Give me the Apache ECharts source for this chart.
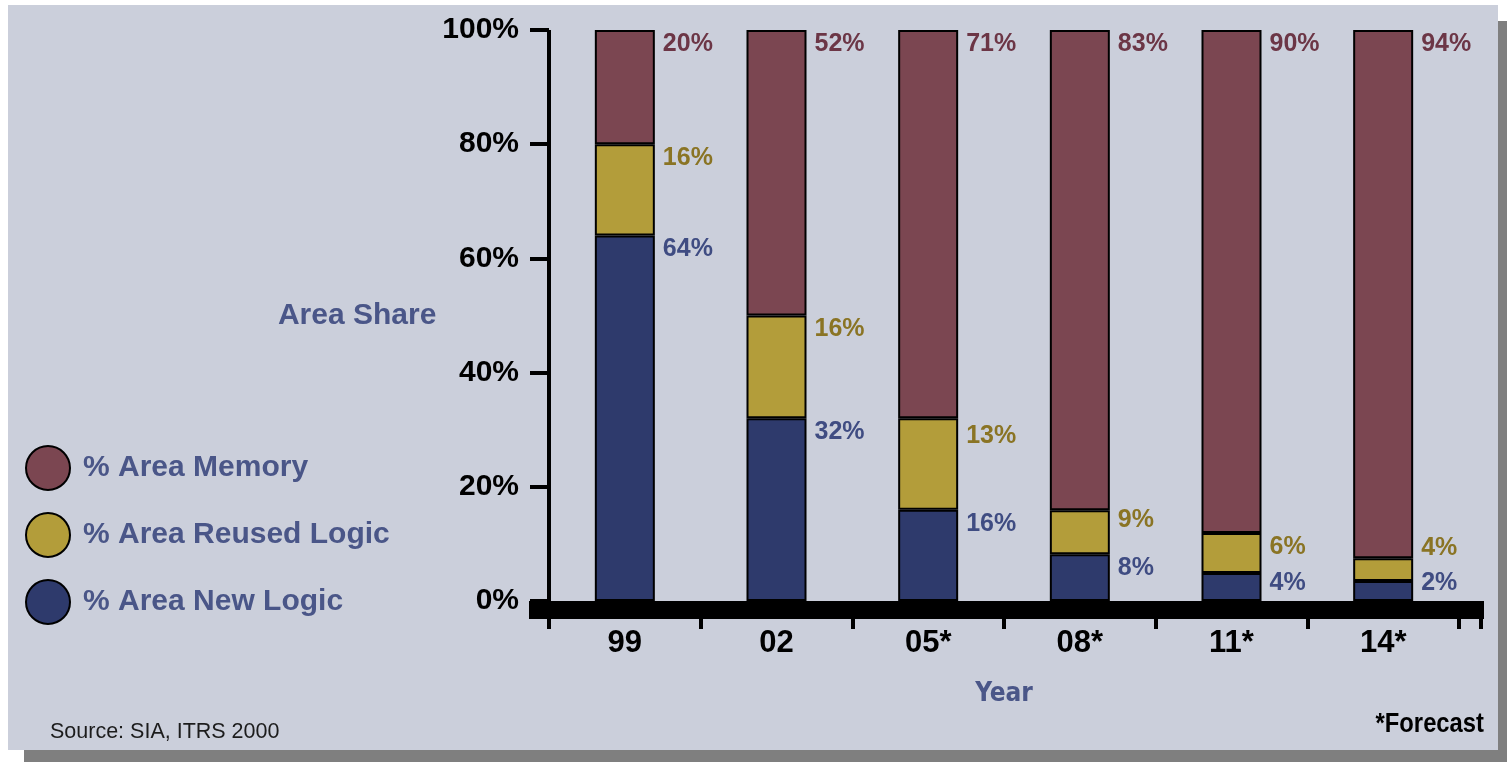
<!DOCTYPE html>
<html>
<head>
<meta charset="utf-8">
<script src="https://cdn.jsdelivr.net/npm/echarts@6/dist/echarts.min.js"></script>
<style>
html,body{margin:0;padding:0;background:#ffffff;}
#chart{width:1507px;height:762px;}
</style>
</head>
<body>
<div id="chart"></div>
<script>
// Categories (years, * = forecast)
var years = ['99', '02', '05*', '08*', '11*', '14*'];
// Bar segment heights as drawn in the picture (% of die area)
var newLogicShare = [64, 32, 16, 8.2, 4.9, 3.5];
var reusedLogicShare = [16, 18, 16, 7.7, 7, 4];
var memoryShare = [20, 50, 68, 84.1, 88.1, 92.5];
// Values printed next to the bars
var newLogicLabels = [64, 32, 16, 8, 4, 2];
var reusedLogicLabels = [16, 16, 13, 9, 6, 4];
var memoryLabels = [20, 52, 71, 83, 90, 94];
// Y axis ticks
var yTicks = [0, 20, 40, 60, 80, 100];

var seriesNames = ['% Area New Logic', '% Area Reused Logic', '% Area Memory'];
var colors = ['#2e3a6c', '#b39d3a', '#7b4651'];
var labelColors = ['#3f4c82', '#8a7424', '#6c3646'];
var NARROW = "'Liberation Sans Narrow', 'DejaVu Sans Condensed', 'Liberation Sans', sans-serif";

var chart = echarts.init(document.getElementById('chart'), null, {renderer: 'canvas'});

var BAR_W = 60;
var LABEL_X = 68;
var DEFAULT_DY = 14;
// label vertical nudges for crowded segments: [seriesIndex_dataIndex]
var labelDy = {
  '1_2': 18, '1_3': 10, '1_5': -10,
  '0_4': 10, '0_5': 2
};

function buildSeries(idx, heights, labels) {
  return {
    name: seriesNames[idx],
    type: 'bar',
    stack: 'area',
    barWidth: BAR_W,
    itemStyle: {color: colors[idx], borderColor: '#000', borderWidth: 2},
    data: heights.map(function (v, i) {
      var dy = labelDy[idx + '_' + i];
      return {
        value: v,
        label: {
          formatter: labels[i] + '%',
          position: [LABEL_X, dy === undefined ? DEFAULT_DY : dy]
        }
      };
    }),
    label: {
      show: true,
      align: 'left',
      verticalAlign: 'middle',
      color: labelColors[idx],
      fontFamily: 'Liberation Sans',
      fontWeight: 'bold',
      fontSize: 25
    },
    emphasis: {disabled: true}
  };
}

var option = {
  backgroundColor: '#ffffff',
  animation: false,
  title: [
    {
      text: 'Source: SIA, ITRS 2000',
      left: 45, top: 716,
      textStyle: {fontFamily: 'Liberation Sans', fontWeight: 'normal', fontSize: 21.5, color: '#1c1c1c'}
    }
  ],
  legend: {
    orient: 'vertical',
    left: 20,
    top: 440,
    itemWidth: 44,
    itemHeight: 44,
    itemGap: 21,
    icon: 'circle',
    data: ['% Area Memory', '% Area Reused Logic', '% Area New Logic'],
    textStyle: {fontFamily: 'Liberation Sans', fontWeight: 'bold', fontSize: 30, color: '#4a5688', padding: [0, 0, 0, 8]},
    selectedMode: false
  },
  grid: {left: 549, top: 30, width: 910, bottom: 161, containLabel: false},
  xAxis: {
    type: 'category',
    data: years,
    offset: 9,
    name: 'Year',
    nameLocation: 'middle',
    nameGap: 84,
    nameTextStyle: {fontFamily: NARROW, fontWeight: 'bold', fontSize: 26, color: '#4a5688', verticalAlign: 'middle'},
    axisLine: {show: true, onZero: false, lineStyle: {color: '#000', width: 18, cap: 'butt'}},
    axisTick: {show: true, length: 19, lineStyle: {color: '#000', width: 4}},
    axisLabel: {margin: 18, fontFamily: 'Liberation Sans', fontWeight: 'bold', fontSize: 31, color: '#000'},
    splitLine: {show: false}
  },
  yAxis: {
    type: 'value',
    min: yTicks[0],
    max: yTicks[yTicks.length - 1],
    interval: yTicks[1] - yTicks[0],
    name: 'Area Share',
    nameLocation: 'middle',
    nameRotate: 0,
    nameGap: 103,
    nameTextStyle: {fontFamily: 'Liberation Sans', fontWeight: 'bold', fontSize: 30, color: '#4a5688', align: 'right', verticalAlign: 'middle'},
    axisLine: {show: true, lineStyle: {color: '#000', width: 4, cap: 'butt'}},
    axisTick: {show: true, length: 19, lineStyle: {color: '#000', width: 4}},
    axisLabel: {margin: 30, formatter: '{value}%', fontFamily: 'Liberation Sans', fontWeight: 'bold', fontSize: 30, color: '#000'},
    splitLine: {show: false}
  },
  graphic: [
    {type: 'rect', z: -20, silent: true, shape: {x: 24, y: 21, width: 1483, height: 741}, style: {fill: '#7f7f7f'}},
    {type: 'rect', z: -10, silent: true, shape: {x: 8, y: 5, width: 1490, height: 745}, style: {fill: '#cbcfdb'}},
    {type: 'rect', z: 100, silent: true, shape: {x: 529, y: 601, width: 22, height: 18}, style: {fill: '#000'}},
    {type: 'rect', z: 100, silent: true, shape: {x: 1457, y: 601, width: 27, height: 18}, style: {fill: '#000'}},
    {type: 'rect', z: 100, silent: true, shape: {x: 1479, y: 610, width: 4, height: 19}, style: {fill: '#000'}},
    {type: 'text', z: 100, silent: true, x: 1484, y: 724, scaleX: 0.85,
      style: {text: '*Forecast', fill: '#000', font: 'bold 28px "Liberation Sans"', align: 'right', verticalAlign: 'middle'}}
  ],
  series: [
    buildSeries(0, newLogicShare, newLogicLabels),
    buildSeries(1, reusedLogicShare, reusedLogicLabels),
    buildSeries(2, memoryShare, memoryLabels)
  ]
};

chart.setOption(option);
</script>
</body>
</html>
